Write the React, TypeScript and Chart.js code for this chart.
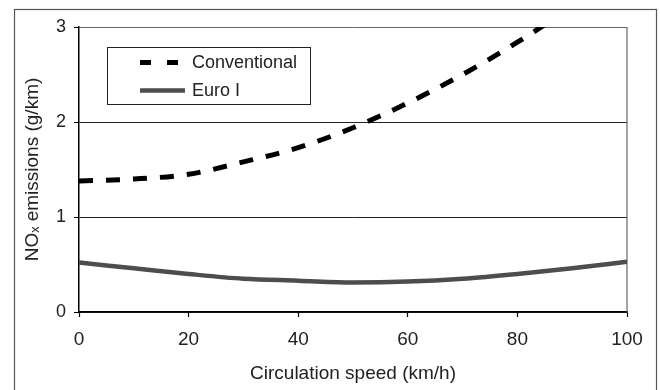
import React, { useEffect, useRef } from 'react';
import { Chart, registerables } from 'chart.js';

Chart.register(...registerables);

const speeds = [0, 10, 20, 30, 40, 50, 60, 70, 80, 90, 100];
const conventional = [1.38, 1.4, 1.45, 1.58, 1.73, 1.94, 2.2, 2.5, 2.84, 3.22, 3.65];
const euroI = [0.52, 0.46, 0.4, 0.35, 0.33, 0.31, 0.32, 0.35, 0.4, 0.46, 0.53];
const seriesLabels = ['Conventional', 'Euro I'];
const xTitle = 'Circulation speed (km/h)';
const yTitle = 'NOₓ emissions (g/km)';

const FONT = "'Liberation Sans', Arial, Helvetica, sans-serif";
const TEXT = '#222';

const framePlugin = {
  id: 'frame',
  beforeDraw(chart: any) {
    const ctx = chart.ctx;
    ctx.save();
    ctx.fillStyle = '#fff';
    ctx.fillRect(0, 0, chart.width, chart.height);
    ctx.strokeStyle = '#555';
    ctx.lineWidth = 1.2;
    ctx.strokeRect(14.5, 9.5, 642, 420);
    ctx.restore();
  },
  beforeDatasetsDraw(chart: any) {
    const { ctx, chartArea } = chart;
    ctx.save();
    ctx.strokeStyle = '#666';
    ctx.lineWidth = 1.2;
    ctx.beginPath();
    ctx.moveTo(chartArea.right, chartArea.top);
    ctx.lineTo(chartArea.right, chartArea.bottom);
    ctx.stroke();
    ctx.restore();
  },
};

const legendPlugin = {
  id: 'boxLegend',
  afterDatasetsDraw(chart: any) {
    const { ctx, chartArea } = chart;
    const left = chartArea.left + 28;
    const top = chartArea.top + 20;
    const w = 203;
    const h = 57;
    ctx.save();
    ctx.fillStyle = '#fff';
    ctx.fillRect(left, top, w, h);
    ctx.strokeStyle = '#222';
    ctx.lineWidth = 1;
    ctx.strokeRect(left + 0.5, top + 0.5, w, h);
    const rows = [top + 15.5, top + 43.5];
    chart.data.datasets.forEach((ds: any, i: number) => {
      const y = rows[i];
      ctx.strokeStyle = ds.borderColor;
      ctx.lineWidth = ds.borderWidth;
      ctx.setLineDash(i === 0 ? [11, 16] : []);
      ctx.beginPath();
      ctx.moveTo(left + 33, y);
      ctx.lineTo(left + 78, y);
      ctx.stroke();
      ctx.setLineDash([]);
      ctx.fillStyle = TEXT;
      ctx.font = `18px ${FONT}`;
      ctx.textBaseline = 'middle';
      ctx.textAlign = 'left';
      ctx.fillText(ds.label, left + 85, y + 1);
    });
    ctx.restore();
  },
};

export default function App() {
  const ref = useRef<HTMLCanvasElement | null>(null);

  useEffect(() => {
    if (!ref.current) return;
    const chart = new Chart(ref.current, {
      type: 'line',
      data: {
        datasets: [
          {
            label: seriesLabels[0],
            data: speeds.map((s, i) => ({ x: s, y: conventional[i] })),
            borderColor: '#000',
            borderWidth: 5,
            borderDash: [14, 13],
            pointRadius: 0,
            fill: false,
            cubicInterpolationMode: 'monotone',
            clip: 0,
          },
          {
            label: seriesLabels[1],
            data: speeds.map((s, i) => ({ x: s, y: euroI[i] })),
            borderColor: '#4d4d4d',
            borderWidth: 4.5,
            pointRadius: 0,
            fill: false,
            cubicInterpolationMode: 'monotone',
            clip: 0,
          },
        ],
      },
      options: {
        animation: false,
        responsive: true,
        maintainAspectRatio: false,
        layout: { padding: { top: 27, right: 33, bottom: 0, left: 0 } },
        plugins: { legend: { display: false }, tooltip: { enabled: false } },
        scales: {
          x: {
            type: 'linear',
            min: 0,
            max: 100,
            afterFit: (s: any) => {
              s.height = 78;
            },
            border: { display: true, color: '#000', width: 1.5 },
            grid: { drawOnChartArea: false, drawTicks: true, tickLength: 5, tickColor: '#000', tickWidth: 1.2 },
            ticks: {
              stepSize: 20,
              padding: 11,
              color: TEXT,
              font: { family: FONT, size: 19 },
              maxRotation: 0,
            },
            title: {
              display: true,
              text: xTitle,
              color: TEXT,
              font: { family: FONT, size: 19 },
              padding: { top: 0, bottom: 5 },
            },
          },
          y: {
            type: 'linear',
            min: 0,
            max: 3,
            afterFit: (s: any) => {
              s.width = 79;
            },
            border: { display: true, color: '#000', width: 1.5 },
            grid: {
              color: (c: any) => (c.tick && c.tick.value === 3 ? '#666' : '#222'),
              lineWidth: 1,
              drawTicks: true,
              tickLength: 5,
              tickColor: '#000',
            },
            ticks: {
              stepSize: 1,
              padding: 8,
              color: TEXT,
              font: { family: FONT, size: 18 },
            },
            title: {
              display: true,
              text: yTitle,
              color: TEXT,
              font: { family: FONT, size: 19 },
              padding: { top: 21, bottom: 0 },
            },
          },
        },
      },
      plugins: [framePlugin, legendPlugin],
    } as any);
    return () => chart.destroy();
  }, []);

  return (
    <div style={{ position: 'fixed', left: 0, top: 0, width: 660, height: 390, background: '#fff' }}>
      <canvas ref={ref} />
    </div>
  );
}
